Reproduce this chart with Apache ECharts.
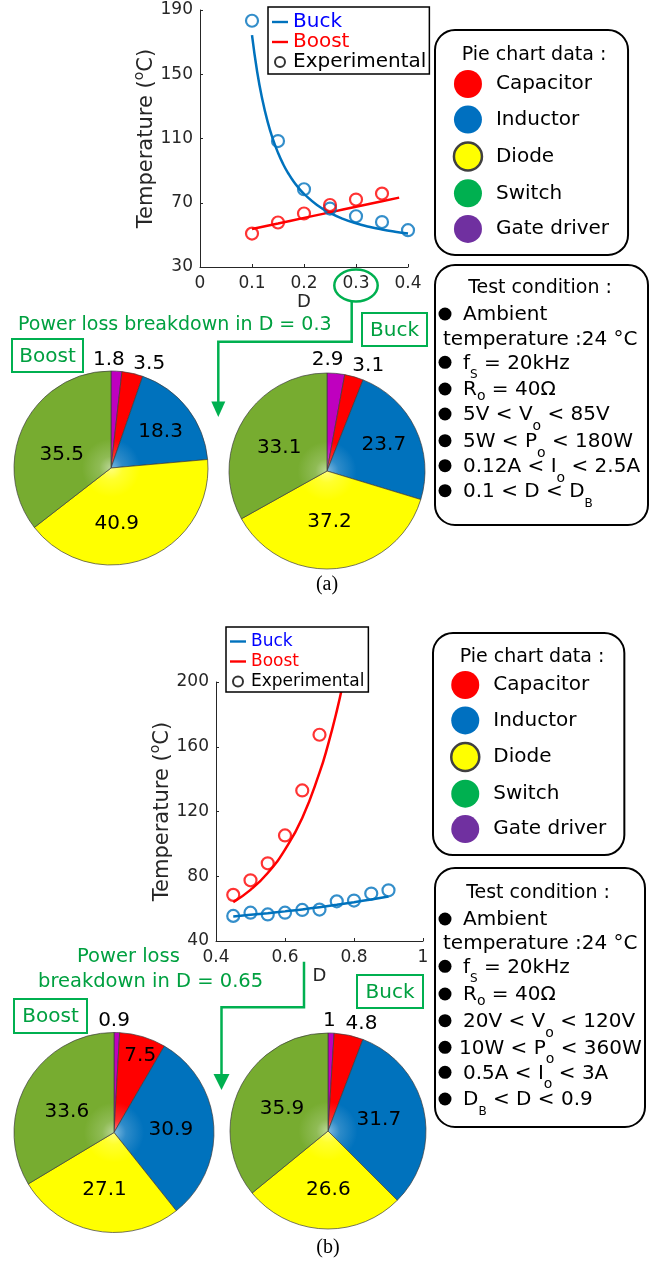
<!DOCTYPE html>
<html>
<head>
<meta charset="utf-8">
<script src="https://cdn.jsdelivr.net/npm/echarts/dist/echarts.min.js"></script>
<style>
  html, body { margin: 0; padding: 0; background: #fff; }
  #chart { width: 654px; height: 1263px; }
</style>
</head>
<body>
<div id="chart"></div>
<script>
  // ---- (a) temperature vs duty cycle D
  const dA_buckExp = [0.1, 0.15, 0.2, 0.25, 0.3, 0.35, 0.4];
  const tA_buckExp = [183.3, 108.4, 78.4, 66.4, 61.6, 58.0, 52.9];
  const dA_boostExp = [0.1, 0.15, 0.2, 0.25, 0.3, 0.35];
  const tA_boostExp = [50.8, 57.7, 63.3, 68.6, 72.0, 75.7];
  const dA_buckFit = [0.1, 0.11, 0.12, 0.13, 0.14, 0.15, 0.16, 0.17, 0.18, 0.19, 0.2, 0.225, 0.25, 0.275, 0.3, 0.325, 0.35, 0.375, 0.4];
  const tA_buckFit = [174.3, 151.4, 134.1, 120.5, 109.8, 101.1, 94.0, 88.2, 83.2, 79.1, 75.5, 68.6, 63.7, 60.0, 57.2, 55.1, 53.4, 52.0, 50.8];
  const dA_boostFit = [0.1, 0.15, 0.2, 0.25, 0.3, 0.35, 0.383];
  const tA_boostFit = [53.7, 57.1, 60.6, 64.0, 67.5, 70.9, 73.2];

  // ---- (b)
  const dB_buckExp = [0.45, 0.5, 0.55, 0.6, 0.65, 0.7, 0.75, 0.8, 0.85, 0.9];
  const tB_buckExp = [55.5, 57.5, 56.4, 57.5, 59.2, 59.4, 64.5, 65.0, 69.3, 71.3];
  const dB_boostExp = [0.45, 0.5, 0.55, 0.6, 0.65, 0.7];
  const tB_boostExp = [68.5, 77.5, 88.0, 105.2, 133.0, 167.4];
  const dB_buckFit = [0.45, 0.5, 0.55, 0.6, 0.65, 0.7, 0.75, 0.8, 0.85, 0.9];
  const tB_buckFit = [55.2, 56.2, 57.2, 58.3, 59.5, 60.9, 62.4, 64.0, 65.7, 67.5];
  const dB_boostFit = [0.45, 0.5, 0.55, 0.6, 0.65, 0.7, 0.725, 0.75, 0.77, 0.785];
  const tB_boostFit = [64, 71.6, 82, 96.5, 116, 144, 161.5, 182, 201, 217];

  // axis ranges (ticks counted from min)
  const axisA = {xMin: 0, xMax: 0.4, xStep: 0.1, yMin: 30, yMax: 190, yStep: 40};
  const axisB = {xMin: 0.4, xMax: 1, xStep: 0.2, yMin: 40, yMax: 200, yStep: 40};

  // ---- power loss breakdown (%), clockwise from 12 o'clock
  const parts = ['Gate driver', 'Capacitor', 'Inductor', 'Diode', 'Switch'];
  const lossA_boost = [1.8, 3.5, 18.3, 40.9, 35.5];
  const lossA_buck = [2.9, 3.1, 23.7, 37.2, 33.1];
  const lossB_boost = [0.9, 7.5, 30.9, 27.1, 33.6];
  const lossB_buck = [1, 4.8, 31.7, 26.6, 35.9];
  const keyOrder = ['Capacitor', 'Inductor', 'Diode', 'Switch', 'Gate driver'];

  const FONT = 'DejaVu Sans';
  const INK = '#262626';
  const GREEN = '#00B050', GREEN_TXT = '#00A040';
  const pieColor = {'Gate driver': '#BF00BF', Capacitor: '#FF0000', Inductor: '#0072BD', Diode: '#FFFF00', Switch: '#77AC30'};
  const keyColor = {Capacitor: '#FF0000', Inductor: '#0070C0', Diode: '#FFFF00', Switch: '#00B050', 'Gate driver': '#7030A0'};

  function lighten(hex, k) {
    const n = parseInt(hex.slice(1), 16);
    const c = [n >> 16, (n >> 8) & 255, n & 255].map(v => Math.round(v + (255 - v) * k));
    return 'rgb(' + c.join(',') + ')';
  }
  function sliceFill(hex, c, r) {
    return {
      type: 'radial', x: c[0], y: c[1], r: r, global: true,
      colorStops: [
        {offset: 0, color: lighten(hex, 0.5)},
        {offset: 0.12, color: lighten(hex, 0.18)},
        {offset: 0.3, color: hex},
        {offset: 1, color: hex}
      ]
    };
  }
  const tickFmt = v => String(Math.round(v * 10) / 10);

  function xAxis(gi, a, gap) {
    return {
      type: 'value', gridIndex: gi, min: a.xMin, max: a.xMax, interval: a.xStep,
      name: 'D', nameLocation: 'middle', nameGap: gap,
      nameTextStyle: {fontSize: 18, color: INK, fontFamily: FONT},
      axisLine: {lineStyle: {color: INK, width: 1}},
      axisTick: {inside: true, length: 3, lineStyle: {color: INK}},
      axisLabel: {fontSize: 17, color: INK, fontFamily: FONT, margin: 8, formatter: tickFmt},
      splitLine: {show: false}
    };
  }
  function yAxis(gi, a, gap) {
    return {
      type: 'value', gridIndex: gi, min: a.yMin, max: a.yMax, interval: a.yStep,
      name: 'Temperature ({sup|o}C)', nameLocation: 'middle', nameGap: gap,
      nameTextStyle: {fontSize: 21, color: INK, fontFamily: FONT,
        rich: {sup: {fontSize: 14, color: INK, fontFamily: FONT, padding: [0, 0, 14, 0]}}},
      axisLine: {show: true, lineStyle: {color: INK, width: 1}},
      axisTick: {show: true, inside: true, length: 3, lineStyle: {color: INK}},
      axisLabel: {fontSize: 17, color: INK, fontFamily: FONT, margin: 7},
      splitLine: {show: false}
    };
  }
  function fitLine(name, color, xs, ys, gi) {
    return {
      type: 'line', name: name, xAxisIndex: gi, yAxisIndex: gi, color: color,
      data: xs.map((x, i) => [x, ys[i]]), symbol: 'none', smooth: 0.5,
      lineStyle: {color: color, width: 2.5}, silent: true, z: 2
    };
  }
  function expPoints(color, xs, ys, gi) {
    return {
      type: 'scatter', name: 'Experimental', xAxisIndex: gi, yAxisIndex: gi,
      data: xs.map((x, i) => [x, ys[i]]), symbol: 'circle', symbolSize: 12,
      itemStyle: {color: 'rgba(0,0,0,0)', borderColor: color, borderWidth: 2.2}, silent: true, z: 3
    };
  }
  function pie(values, c, r, outside, shift) {
    return {
      type: 'pie', center: c, radius: r, startAngle: 90, clockwise: true,
      avoidLabelOverlap: false, silent: true, emphasis: {disabled: true},
      itemStyle: {borderColor: '#3c3c3c', borderWidth: 0.7},
      label: {show: true, position: 'inside', formatter: '{c}', fontSize: 20, color: '#000',
        fontFamily: FONT, distanceToLabelLine: 0},
      labelLine: {show: false, length: 8, length2: 0},
      labelLayout: p => ({align: 'center', verticalAlign: 'middle', dx: shift[p.dataIndex][0], dy: shift[p.dataIndex][1]}),
      data: parts.map((n, i) => ({
        name: n, value: values[i],
        itemStyle: {color: sliceFill(pieColor[n], c, r)},
        label: {position: outside.indexOf(i) >= 0 ? 'outside' : 'inside'}
      }))
    };
  }

  const LINE_ICON = 'path://M0,0H20V3H0Z';
  function curveLegend(left, top, fontSize, gap, padding) {
    return {
      left: left, top: top, orient: 'vertical', selectedMode: false,
      itemWidth: 16, itemHeight: 10, itemGap: gap, padding: padding,
      borderColor: '#000', borderWidth: 1.5, backgroundColor: '#fff',
      textStyle: {fontSize: fontSize, fontFamily: FONT, color: '#000'},
      data: [
        {name: 'Buck', icon: LINE_ICON, textStyle: {color: '#0000FF'}},
        {name: 'Boost', icon: LINE_ICON, textStyle: {color: '#FF0000'}},
        {name: 'Experimental', icon: 'circle', itemStyle: {color: 'rgba(0,0,0,0)', borderColor: '#000', borderWidth: 2}}
      ]
    };
  }
  function partLegend(left, top, gap, padding) {
    return {
      left: left, top: top, orient: 'vertical', selectedMode: false, icon: 'circle',
      itemWidth: 28, itemHeight: 28, itemGap: gap, padding: padding,
      borderColor: '#000', borderWidth: 2, borderRadius: 20, backgroundColor: '#fff',
      textStyle: {fontSize: 20, fontFamily: FONT, color: '#000', padding: [0, 0, 0, 9]},
      data: keyOrder.map(n => ({
        name: n,
        itemStyle: {color: keyColor[n], borderColor: n === 'Diode' ? '#404040' : 'rgba(0,0,0,0)', borderWidth: n === 'Diode' ? 2.5 : 0}
      }))
    };
  }

  // ---- annotation helpers
  function txt(x, y, text, size, color, align, extra) {
    return Object.assign({type: 'text', x: x, y: y, style: {
      text: text, fontSize: size, fontFamily: FONT, fill: color, align: align || 'left', verticalAlign: 'middle'
    }}, extra || {});
  }
  function tagBox(label, x, y, w, h) {
    return [
      {type: 'rect', shape: {x: x, y: y, width: w, height: h}, style: {fill: '#fff', stroke: GREEN, lineWidth: 2}},
      txt(x + w / 2, y + h / 2 + 1, label, 20, GREEN_TXT, 'center')
    ];
  }
  const subRich = {
    lo: {fontSize: 14, fontFamily: FONT, fill: '#000', padding: [13, 0, 0, 0]},
    ll: {fontSize: 14, fontFamily: FONT, fill: '#000', padding: [23, 0, 0, 0]},
    cs: {fontSize: 12, fontFamily: FONT, fill: '#000', padding: [24, 0, 0, 0]}
  };
  function condBox(box, ys, lines) {
    const g = [{type: 'rect', shape: {x: box[0], y: box[1], width: box[2], height: box[3], r: 20},
      style: {fill: '#fff', stroke: '#000', lineWidth: 2}}];
    lines.forEach((ln, i) => {
      if (ln.title) {
        g.push(txt(ln.x, ys[i], ln.t, 19, '#000', 'center'));
        return;
      }
      if (ln.b) g.push({type: 'circle', shape: {cx: 445, cy: ys[i] - 1, r: 6.5}, style: {fill: '#000'}});
      const el = txt(ln.x || 463, ys[i], ln.t, 20, '#000', 'left');
      el.style.rich = subRich;
      g.push(el);
    });
    return g;
  }

  const condA = [
    {t: 'Test condition :', title: true, x: 540},
    {t: 'Ambient', b: true},
    {t: 'temperature :24 °C', x: 443},
    {t: 'f{cs|S} = 20kHz', b: true},
    {t: 'R{lo|o} = 40Ω', b: true},
    {t: '5V < V{ll|o} < 85V', b: true},
    {t: '5W < P{ll|o} < 180W', b: true},
    {t: '0.12A < I{ll|o} < 2.5A', b: true},
    {t: '0.1 < D < D{cs|B}', b: true}
  ];
  const condB = [
    {t: 'Test condition :', title: true, x: 538},
    {t: 'Ambient', b: true},
    {t: 'temperature :24 °C', x: 443},
    {t: 'f{cs|S} = 20kHz', b: true},
    {t: 'R{lo|o} = 40Ω', b: true},
    {t: '20V < V{ll|o} < 120V', b: true},
    {t: '10W < P{ll|o} < 360W', b: true, x: 459},
    {t: '0.5A < I{ll|o} < 3A', b: true},
    {t: 'D{cs|B} < D < 0.9', b: true}
  ];

  const graphic = [].concat(
    // (a) D = 0.3 callout
    {type: 'ellipse', shape: {cx: 356, cy: 285.5, rx: 21.7, ry: 16}, style: {fill: null, stroke: GREEN, lineWidth: 2.5}},
    {type: 'polyline', shape: {points: [[351.7, 301.5], [351.7, 341.7], [218.3, 341.7], [218.3, 403]]}, style: {fill: null, stroke: GREEN, lineWidth: 2.5}},
    {type: 'polygon', shape: {points: [[211.3, 401.5], [225.3, 401.5], [218.3, 417]]}, style: {fill: GREEN}},
    txt(18, 325, 'Power loss breakdown in D = 0.3', 19, GREEN_TXT),
    tagBox('Boost', 12, 339, 71, 33),
    tagBox('Buck', 362, 313, 65, 33),
    // (b) D = 0.65 callout
    {type: 'polyline', shape: {points: [[304, 961.7], [304, 1007.3], [221.5, 1007.3], [221.5, 1076]]}, style: {fill: null, stroke: GREEN, lineWidth: 2.5}},
    {type: 'polygon', shape: {points: [[213.5, 1074], [229.5, 1074], [221.5, 1090]]}, style: {fill: GREEN}},
    txt(77, 956.7, 'Power loss', 19.5, GREEN_TXT),
    txt(38, 981.7, 'breakdown in D = 0.65', 19.5, GREEN_TXT),
    tagBox('Boost', 14, 999, 73, 34),
    tagBox('Buck', 357, 975, 66, 33),
    // pie chart key titles
    txt(534, 55, 'Pie chart data :', 19, '#000', 'center', {z: 10}),
    txt(532, 657, 'Pie chart data :', 19, '#000', 'center', {z: 10}),
    // test conditions
    condBox([435, 265, 213, 260], [288.3, 315, 340, 363.3, 390, 415, 441.7, 466.7, 491.7], condA),
    condBox([435, 868, 210, 259], [893.3, 920, 943.3, 967.3, 995, 1021.7, 1048.3, 1073.3, 1100], condB),
    // captions
    {type: 'text', x: 327, y: 585, style: {text: '(a)', fontSize: 20, fontFamily: 'Liberation Serif', fill: '#000', align: 'center', verticalAlign: 'middle'}},
    {type: 'text', x: 328, y: 1248, style: {text: '(b)', fontSize: 20, fontFamily: 'Liberation Serif', fill: '#000', align: 'center', verticalAlign: 'middle'}}
  );

  const chart = echarts.init(document.getElementById('chart'), null, {renderer: 'canvas'});
  chart.setOption({
    animation: false,
    backgroundColor: '#fff',
    textStyle: {fontFamily: FONT},
    grid: [
      {left: 200, top: 10, width: 208, height: 257, outerBoundsMode: 'none'},
      {left: 216, top: 682, width: 207, height: 259, outerBoundsMode: 'none'}
    ],
    xAxis: [xAxis(0, axisA, 22), xAxis(1, axisB, 23)],
    yAxis: [yAxis(0, axisA, 39), yAxis(1, axisB, 37)],
    legend: [
      curveLegend(268, 7, 20, 0, [5, 3, 2, 4]),
      curveLegend(226, 627, 17, 3, [6, 4, 2, 4]),
      partLegend(435, 30, 7.6, [40, 19, 12, 17.7]),
      partLegend(433, 633, 7.4, [38, 18, 12, 17])
    ],
    series: [
      fitLine('Buck', '#0072BD', dA_buckFit, tA_buckFit, 0),
      fitLine('Boost', '#FF0000', dA_boostFit, tA_boostFit, 0),
      expPoints('#0072BD', dA_buckExp, tA_buckExp, 0),
      expPoints('#FF0000', dA_boostExp, tA_boostExp, 0),
      fitLine('Buck', '#0072BD', dB_buckFit, tB_buckFit, 1),
      fitLine('Boost', '#FF0000', dB_boostFit, tB_boostFit, 1),
      expPoints('#0072BD', dB_buckExp, tB_buckExp, 1),
      expPoints('#FF0000', dB_boostExp, tB_boostExp, 1),
      pie(lossA_boost, [111, 468], 97, [0, 1], [[-8, -3], [15, -2], [9, -5], [-13, 8], [-3, 9]]),
      pie(lossA_buck, [327, 471], 98, [0, 1], [[-9, -6], [12, -3], [10, -4], [-3, -1], [-3, 3]]),
      pie(lossB_boost, [114, 1132.5], 100, [0], [[-3, -4], [11, -26], [4, 1], [0, 5], [-1, 5]]),
      pie(lossB_buck, [328, 1131], 98, [0, 1], [[-2, -4], [11, -4], [0, 0], [3, 7], [1, 0]])
    ],
    graphic: graphic
  });
</script>
</body>
</html>
